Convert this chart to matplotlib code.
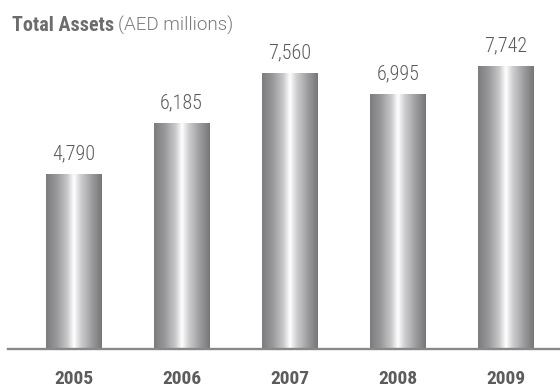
import numpy as np
import matplotlib
matplotlib.use("Agg")
import matplotlib.pyplot as plt
from matplotlib.colors import LinearSegmentedColormap
from matplotlib.transforms import offset_copy

years = ["2005", "2006", "2007", "2008", "2009"]
total_assets = [4790, 6185, 7560, 6995, 7742]

FONT = ["Roboto Condensed", "DejaVu Sans"]
FONT_WIDE = ["Roboto", "DejaVu Sans"]

fig = plt.figure(figsize=(5.6, 3.88), dpi=100)
ax = fig.add_axes([8 / 560, 39 / 388, 1 - 8 / 560, 349 / 388])

x = np.arange(len(years))
bars = ax.bar(x, total_assets, width=0.51, color="none", edgecolor="none")

# metallic cylinder shading across each bar
metal = LinearSegmentedColormap.from_list(
    "metal",
    [(0.0, "#7c7c7e"), (0.2, "#9a9a9c"), (0.38, "#c8c8ca"),
     (0.5, "#ffffff"), (0.62, "#cfcfd1"), (0.82, "#9c9c9e"), (1.0, "#767678")],
)
grad = np.linspace(0, 1, 256).reshape(1, -1)
for b in bars:
    x0, w, h = b.get_x(), b.get_width(), b.get_height()
    im = ax.imshow(grad, cmap=metal, aspect="auto",
                   extent=(x0, x0 + w, 0, h), zorder=2, interpolation="bilinear")
    im.set_clip_path(b)

# value labels above bars
for xi, v in zip(x, total_assets):
    ax.annotate(f"{v:,}", (xi, v), xytext=(0, 10.5), textcoords="offset points",
                ha="center", va="baseline", fontsize=14.5, color="#5a5a5a",
                family=FONT, fontweight=300)

# year labels below the baseline
for xi, yr in zip(x, years):
    ax.annotate(yr, (xi, 0), xytext=(0, -25.2), textcoords="offset points",
                ha="center", va="baseline", fontsize=14, color="#5c5c5c",
                family=FONT, fontweight="bold")

ax.set_xlim(-0.606, 4.5)
ax.set_ylim(0, 9560)
for s in ["top", "right", "left"]:
    ax.spines[s].set_visible(False)
ax.spines["bottom"].set_color("#888888")
ax.spines["bottom"].set_linewidth(1.7)
ax.set_yticks([])
ax.set_xticks([])

# chart title: bold heading followed by the unit in regular weight
title_y = 1 - 31 / 388
t1 = fig.text(12 / 560, title_y, "Total Assets", fontsize=14.5, fontweight="bold",
              color="#6c6c6c", family=FONT, va="baseline", ha="left")
fig.canvas.draw()
w = t1.get_window_extent().width
fig.text(0, title_y, "(AED millions)",
         transform=offset_copy(fig.transFigure, fig=fig, x=12 + w + 4, y=0, units="dots"),
         fontsize=13.5, color="#7a7a7a", family=FONT_WIDE, va="baseline", ha="left",
         fontweight=300)

fig.savefig("out.png", dpi=100)
